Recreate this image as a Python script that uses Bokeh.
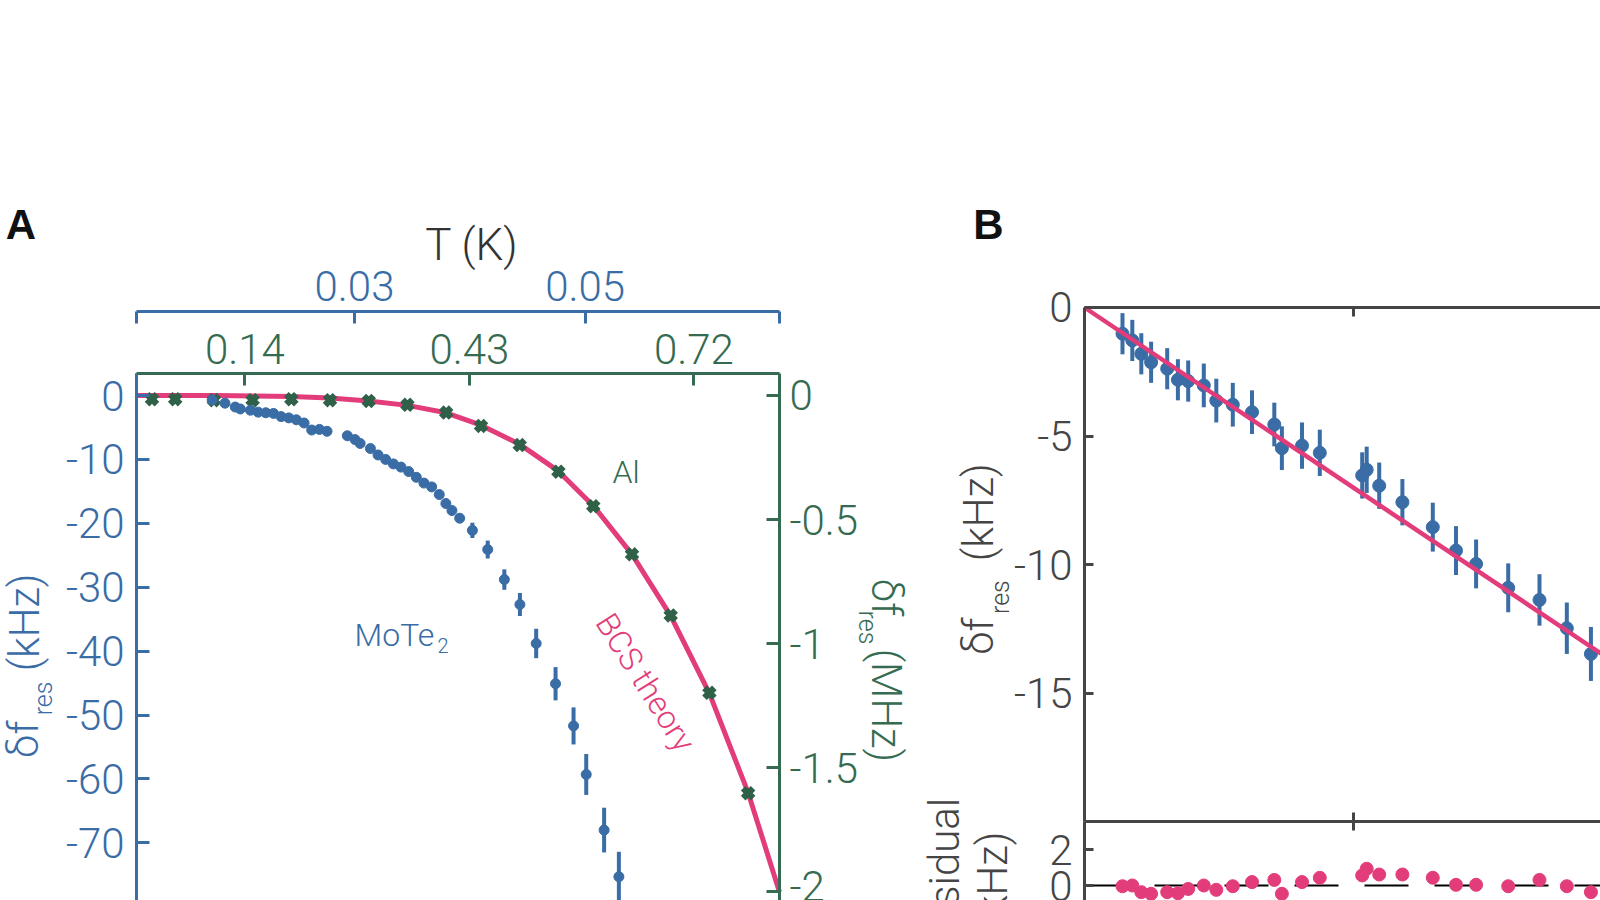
from bokeh.plotting import figure
from bokeh.models import Range1d, LinearAxis, FixedTicker, Label
from bokeh.layouts import row
from bokeh.embed import file_html
from bokeh.resources import INLINE
import math

FONT = "Roboto Light, Roboto, sans-serif"
BOLD = "Liberation Sans"
BLUE = "#3a6ca5"
GREEN = "#356b50"
GREEN_M = "#2e6147"
PINK = "#e23d7a"
GRAY = "#454545"

# ---------------- Panel A data ----------------
# Al (green, right axis MHz) vs T (K) on green top axis
al_T = [0.02, 0.05, 0.10, 0.15, 0.20, 0.25, 0.30, 0.35, 0.40, 0.445, 0.495,
        0.545, 0.59, 0.64, 0.69, 0.74, 0.79]
al_df_MHz = [-0.015, -0.015, -0.019, -0.019, -0.015, -0.019, -0.022, -0.038,
             -0.069, -0.123, -0.200, -0.307, -0.446, -0.640, -0.886, -1.198, -1.602]
# BCS theory curve
bcs_T = [0.0, 0.10, 0.20, 0.25, 0.30, 0.35, 0.40, 0.445, 0.495, 0.545, 0.59,
         0.64, 0.69, 0.74, 0.79, 0.8305]
bcs_MHz = [0.0, 0.0, -0.004, -0.010, -0.022, -0.040, -0.070, -0.120, -0.197,
           -0.305, -0.444, -0.640, -0.888, -1.200, -1.600, -2.000]
# MoTe2 (blue, left axis kHz) vs T (K) on blue top axis
mote_T = [0.01766, 0.01877, 0.01966, 0.02010, 0.02098, 0.02165, 0.02231, 0.02298,
          0.02364, 0.02430, 0.02496, 0.02563, 0.02629, 0.02696, 0.02762, 0.02938,
          0.03005, 0.03049, 0.03138, 0.03204, 0.03270, 0.03337, 0.03403, 0.03470,
          0.03536, 0.03602, 0.03669, 0.03735, 0.03792, 0.03845, 0.03912, 0.04022,
          0.04155, 0.04299, 0.04434, 0.04575, 0.04743, 0.04899, 0.05009, 0.05164,
          0.05292]
mote_df_kHz = [-0.7, -1.2, -1.8, -2.1, -2.3, -2.6, -2.7, -2.8, -3.3, -3.5, -3.8,
               -4.3, -5.4, -5.3, -5.6, -6.3, -6.9, -7.5, -8.3, -9.3, -10.0, -10.7,
               -11.2, -11.9, -12.8, -13.7, -14.3, -15.5, -16.9, -18.0, -19.2, -21.1,
               -24.1, -28.8, -32.7, -38.8, -45.1, -51.7, -59.3, -68.0, -75.3]
mote_err_kHz = [0.3] * 28 + [0.5, 0.6, 0.7, 1.2, 1.4, 1.6, 1.8, 2.3, 2.6, 2.9,
                             3.2, 3.5, 3.9]

green_ticks = [0.0, 0.14, 0.43, 0.72, 0.8305]
green_labels = ["", "0.14", "0.43", "0.72", ""]
blue_ticks = [0.011075, 0.03, 0.05, 0.06681]
blue_labels = ["", "0.03", "0.05", ""]
khz_ticks = [0, -10, -20, -30, -40, -50, -60, -70, -80]
khz_labels = ["0", "-10", "-20", "-30", "-40", "-50", "-60", "-70", "-80"]
mhz_ticks = [0, -0.5, -1, -1.5, -2]
mhz_labels = ["0", "-0.5", "-1", "-1.5", "-2"]

# ---------------- Panel B data ----------------
b_x = [0.1414, 0.1779, 0.2114, 0.2479, 0.3078, 0.3476, 0.3859, 0.4440, 0.4905,
       0.5519, 0.6234, 0.7064, 0.7346, 0.8095, 0.8757, 1.0335, 1.0502, 1.0968,
       1.1831, 1.2962, 1.3826, 1.4574, 1.5769, 1.6933, 1.7950, 1.8847]
b_df = [-1.02, -1.28, -1.80, -2.13, -2.38, -2.81, -2.86, -3.03, -3.62, -3.78,
        -4.07, -4.55, -5.47, -5.37, -5.65, -6.53, -6.31, -6.93, -7.57, -8.54,
        -9.45, -9.97, -10.90, -11.37, -12.47, -13.47]
b_err = [0.8, 0.8, 0.8, 0.8, 0.8, 0.8, 0.8, 0.85, 0.85, 0.85, 0.85, 0.85, 0.85,
         0.9, 0.9, 0.9, 0.9, 0.9, 0.9, 0.95, 0.95, 0.95, 0.95, 1.0, 1.0, 1.05]
b_resid = [-0.04, 0.0, -0.37, -0.46, -0.37, -0.43, -0.19, 0.0, -0.24, -0.04,
           0.19, 0.31, -0.46, 0.19, 0.43, 0.56, 0.93, 0.61, 0.61, 0.43, 0.04,
           0.04, -0.04, 0.31, -0.04, -0.37]
fit_x = [0.0, 2.0]
fit_y = [0.0, -14.0]
b_ticks = [0, -5, -10, -15]
b_labels = ["0", "-5", "-10", "-15"]
r_ticks = [0, 2]
r_labels = ["0", "2"]
bx_ticks = [1.0]
bx_labels = [""]


def style_axis(ax, color, ticks, labels, tick_in, standoff, fs="42px", lw=3,
               tick_out=0):
    ax.ticker = FixedTicker(ticks=ticks)
    ax.major_label_overrides = {t: l for t, l in zip(ticks, labels)}
    ax.axis_line_color = color
    ax.axis_line_width = lw
    ax.major_tick_line_color = color
    ax.major_tick_line_width = lw
    ax.major_tick_in = tick_in
    ax.major_tick_out = tick_out
    ax.minor_tick_line_color = None
    ax.major_label_text_color = color
    ax.major_label_text_font = FONT
    ax.major_label_text_font_size = fs
    ax.major_label_standoff = standoff


def lab(p, text, x, y, color, size, angle=0.0, align="center", baseline="middle",
        font=FONT, style="normal", y_range_name="default"):
    p.add_layout(Label(x=x, y=y, text=text, text_color=color, text_font=font,
                       text_font_size=size, text_font_style=style, angle=angle,
                       text_align=align, text_baseline=baseline,
                       y_range_name=y_range_name))


def bare_figure(w, h, xr, yr):
    p = figure(width=w, height=h, output_backend="svg", toolbar_location=None,
               x_range=xr, y_range=yr, x_axis_location=None, y_axis_location=None,
               min_border_left=0, min_border_right=0, min_border_top=0,
               min_border_bottom=0)
    p.outline_line_color = None
    p.grid.visible = False
    return p


# ---------------- Figure A ----------------
pA = bare_figure(915, 900, Range1d(-0.17567, 1.00620), Range1d(-79.02, 61.814))
pA.extra_x_ranges = {"mote": Range1d(-0.000689, 0.078635)}
pA.extra_y_ranges = {"mhz": Range1d(-2.0343, 1.5907)}

gax = LinearAxis(fixed_location=3.372, bounds=(0.0, 0.8305))
style_axis(gax, GREEN, green_ticks, green_labels, 12, 10)
pA.add_layout(gax, "above")

bax = LinearAxis(x_range_name="mote", fixed_location=13.151,
                 bounds=(0.011075, 0.06681))
style_axis(bax, BLUE, blue_ticks, blue_labels, 12, 10)
pA.add_layout(bax, "above")

lax = LinearAxis(fixed_location=0.0, bounds=(-80.5, 3.372))
style_axis(lax, BLUE, khz_ticks, khz_labels, 13, 12)
pA.add_layout(lax, "left")

rax = LinearAxis(y_range_name="mhz", fixed_location=0.8305, bounds=(-2.0343, 0.0847))
style_axis(rax, GREEN, mhz_ticks, mhz_labels, 13, 10)
pA.add_layout(rax, "right")

pA.line(bcs_T, bcs_MHz, y_range_name="mhz", line_color=PINK, line_width=5)
pA.scatter(al_T, al_df_MHz, y_range_name="mhz", marker="x", size=14,
           line_color=GREEN_M, line_width=6.5)
mote_lo = [v - e for v, e in zip(mote_df_kHz, mote_err_kHz)]
mote_hi = [v + e for v, e in zip(mote_df_kHz, mote_err_kHz)]
pA.segment(x0=mote_T, y0=mote_lo, x1=mote_T, y1=mote_hi, x_range_name="mote",
           line_color=BLUE, line_width=4)
pA.scatter(mote_T, mote_df_kHz, x_range_name="mote", size=10,
           fill_color=BLUE, line_color=BLUE)

lab(pA, "A", -0.1493, 26.69, "#111111", "42px", font=BOLD, style="bold")
lab(pA, "T (K)", 0.4332, 23.48, "#333333", "44px")
lab(pA, "Al", 0.6323, -11.95, GREEN, "32px")
lab(pA, "MoTe", 0.2816, -37.55, BLUE, "32px", align="left", baseline="alphabetic")
lab(pA, "2", 0.3888, -39.12, BLUE, "20px", align="left", baseline="alphabetic")
lab(pA, "BCS theory", 0.6575, -44.9, PINK, "32px", angle=-1.007)
# left axis title
lab(pA, "δf", -0.146, -53.8, BLUE, "42px", angle=math.pi / 2)
lab(pA, "res", -0.1201, -47.4, BLUE, "25px", angle=math.pi / 2)
lab(pA, "(kHz)", -0.1447, -35.5, BLUE, "42px", angle=math.pi / 2)
# right axis title
lab(pA, "δf", 0.9687, -31.6, GREEN, "42px", angle=-math.pi / 2)
lab(pA, "res", 0.9442, -36.3, GREEN, "25px", angle=-math.pi / 2)
lab(pA, "(MHz)", 0.9687, -48.5, GREEN, "42px", angle=-math.pi / 2)

# ---------------- Figure B (main + residual in one frame) ----------------
pB = bare_figure(685, 900, Range1d(-0.62895, 1.92036), Range1d(-23.056, 11.936))
pB.extra_y_ranges = {"res": Range1d(-0.8333, 49.167)}

btop = LinearAxis(fixed_location=0.0, bounds=(0.0, 1.92036))
style_axis(btop, GRAY, bx_ticks, bx_labels, 9, 0, fs="0px")
pB.add_layout(btop, "above")

bsep = LinearAxis(fixed_location=-20.0, bounds=(0.0, 1.92036))
style_axis(bsep, GRAY, bx_ticks, bx_labels, 9, 0, fs="0px", tick_out=9)
pB.add_layout(bsep, "below")

bleft = LinearAxis(fixed_location=0.0, bounds=(-20.0, 0.0))
style_axis(bleft, GRAY, b_ticks, b_labels, 9, 12)
pB.add_layout(bleft, "left")

rleft = LinearAxis(y_range_name="res", fixed_location=0.0, bounds=(-0.8333, 3.533))
style_axis(rleft, GRAY, r_ticks, r_labels, 9, 12)
pB.add_layout(rleft, "left")

b_lo = [v - e for v, e in zip(b_df, b_err)]
b_hi = [v + e for v, e in zip(b_df, b_err)]
pB.segment(x0=b_x, y0=b_lo, x1=b_x, y1=b_hi, line_color=BLUE, line_width=4)
pB.scatter(b_x, b_df, size=13, fill_color=BLUE, line_color=BLUE)
pB.line(fit_x, fit_y, line_color=PINK, line_width=4.5)

pB.ray(x=[0.0], y=[0.0], length=0, angle=0, y_range_name="res",
       line_color="black", line_width=2, line_dash="44 26")
pB.scatter(b_x, b_resid, y_range_name="res", size=13, fill_color=PINK,
           line_color=PINK)

lab(pB, "B", -0.358, 3.21, "#111111", "42px", font=BOLD, style="bold")
lab(pB, "(kHz)", -0.3945, -7.96, GRAY, "42px", angle=math.pi / 2)
lab(pB, "res", -0.3126, -11.26, GRAY, "25px", angle=math.pi / 2)
lab(pB, "δf", -0.3945, -12.78, GRAY, "42px", angle=math.pi / 2)
lab(pB, "Residual", -0.521, 0.5, GRAY, "42px", angle=math.pi / 2, y_range_name="res")
lab(pB, "(kHz)", -0.3424, 0.28, GRAY, "42px", angle=math.pi / 2, y_range_name="res")

layout = row(pA, pB)
open("out.html", "w").write(file_html(layout, INLINE))
